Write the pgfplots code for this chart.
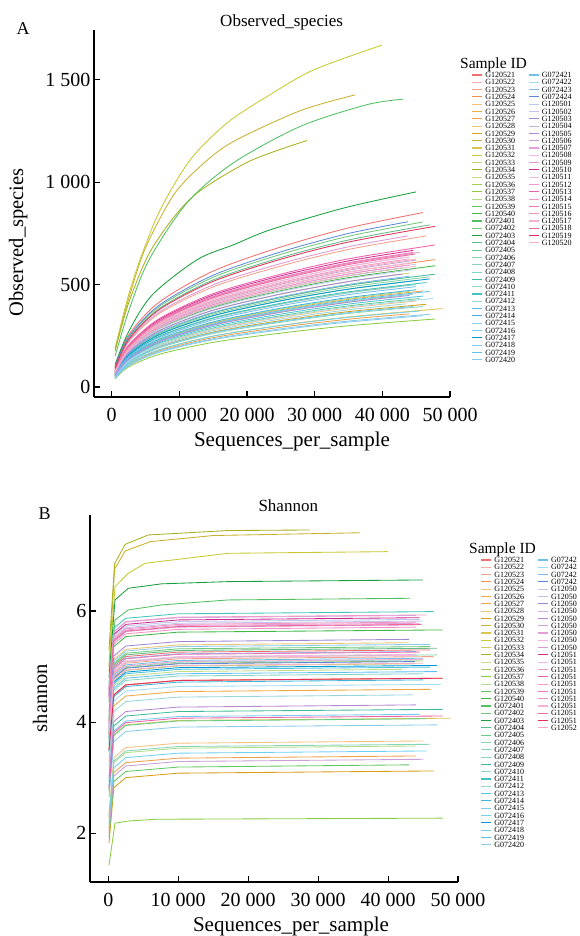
\documentclass[border=0pt]{standalone}
\usepackage{fontspec}
\setmainfont{Liberation Serif}
\usepackage{pgfplots}
\pgfplotsset{compat=1.18}

% one colour per sample, in legend order (hue runs red -> green -> blue -> pink)
\definecolor{s01}{HTML}{F07070}\definecolor{s02}{HTML}{F4AFA8}\definecolor{s03}{HTML}{F4A088}
\definecolor{s04}{HTML}{F39050}\definecolor{s05}{HTML}{F6C080}\definecolor{s06}{HTML}{F2AA40}
\definecolor{s07}{HTML}{F0A048}\definecolor{s08}{HTML}{EEC470}\definecolor{s09}{HTML}{D89E18}
\definecolor{s10}{HTML}{C8B030}\definecolor{s11}{HTML}{DCC450}\definecolor{s12}{HTML}{C8C830}
\definecolor{s13}{HTML}{CCCC70}\definecolor{s14}{HTML}{A8B020}\definecolor{s15}{HTML}{C4DC88}
\definecolor{s16}{HTML}{A8CC60}\definecolor{s17}{HTML}{8CCC44}\definecolor{s18}{HTML}{B0DC88}
\definecolor{s19}{HTML}{60C860}\definecolor{s20}{HTML}{40B848}\definecolor{s21}{HTML}{50C060}
\definecolor{s22}{HTML}{70C878}\definecolor{s23}{HTML}{18A040}\definecolor{s24}{HTML}{60BC88}
\definecolor{s25}{HTML}{68CC8C}\definecolor{s26}{HTML}{88D4A8}\definecolor{s27}{HTML}{88D4B8}
\definecolor{s28}{HTML}{88D4C4}\definecolor{s29}{HTML}{40BC9C}\definecolor{s30}{HTML}{88D4CC}
\definecolor{s31}{HTML}{40C4BC}\definecolor{s32}{HTML}{98D4DC}\definecolor{s33}{HTML}{50C4DC}
\definecolor{s34}{HTML}{40B4DC}\definecolor{s35}{HTML}{88CCEC}\definecolor{s36}{HTML}{70D0F4}
\definecolor{s37}{HTML}{0098DC}\definecolor{s38}{HTML}{78CCF4}\definecolor{s39}{HTML}{60C0F4}
\definecolor{s40}{HTML}{88CCEC}\definecolor{s41}{HTML}{70C0EC}\definecolor{s42}{HTML}{A0DCF4}
\definecolor{s43}{HTML}{84B8EC}\definecolor{s44}{HTML}{6088DC}\definecolor{s45}{HTML}{C0C8EC}
\definecolor{s46}{HTML}{C8C0EC}\definecolor{s47}{HTML}{A088D4}\definecolor{s48}{HTML}{CCB0DC}
\definecolor{s49}{HTML}{B888D4}\definecolor{s50}{HTML}{C8A0D4}\definecolor{s51}{HTML}{E4A0DC}
\definecolor{s52}{HTML}{F0B8E4}\definecolor{s53}{HTML}{DC98D4}\definecolor{s54}{HTML}{D02C90}
\definecolor{s55}{HTML}{F4B8DC}\definecolor{s56}{HTML}{EE98CC}\definecolor{s57}{HTML}{EE60A8}
\definecolor{s58}{HTML}{F498C4}\definecolor{s59}{HTML}{EE78B4}\definecolor{s60}{HTML}{F090C4}
\definecolor{s61}{HTML}{F4B0D0}\definecolor{s62}{HTML}{EE6898}\definecolor{s63}{HTML}{E43058}
\definecolor{s64}{HTML}{F4B0C0}

\newcommand{\cur}[2]{\addplot[#1,forget plot] coordinates {#2};}
\newcommand{\LE}[2]{\addlegendimage{#1}\addlegendentry{#2}}
\newcommand{\LX}{\addlegendimage{empty legend}\addlegendentry{}}

% left column (40 rows) is the same in both panels
\newcommand{\LeftRows}{%
\LE{s25}{G072405}\LX\LE{s26}{G072406}\LX\LE{s27}{G072407}\LX\LE{s28}{G072408}\LX
\LE{s29}{G072409}\LX\LE{s30}{G072410}\LX\LE{s31}{G072411}\LX\LE{s32}{G072412}\LX
\LE{s33}{G072413}\LX\LE{s34}{G072414}\LX\LE{s35}{G072415}\LX\LE{s36}{G072416}\LX
\LE{s37}{G072417}\LX\LE{s38}{G072418}\LX\LE{s39}{G072419}\LX\LE{s40}{G072420}\LX
}
% panel A legend, filled row by row
\newcommand{\SampleLegendA}{%
\LE{s01}{G120521}\LE{s41}{G072421}\LE{s02}{G120522}\LE{s42}{G072422}%
\LE{s03}{G120523}\LE{s43}{G072423}\LE{s04}{G120524}\LE{s44}{G072424}%
\LE{s05}{G120525}\LE{s45}{G120501}\LE{s06}{G120526}\LE{s46}{G120502}%
\LE{s07}{G120527}\LE{s47}{G120503}\LE{s08}{G120528}\LE{s48}{G120504}%
\LE{s09}{G120529}\LE{s49}{G120505}\LE{s10}{G120530}\LE{s50}{G120506}%
\LE{s11}{G120531}\LE{s51}{G120507}\LE{s12}{G120532}\LE{s52}{G120508}%
\LE{s13}{G120533}\LE{s53}{G120509}\LE{s14}{G120534}\LE{s54}{G120510}%
\LE{s15}{G120535}\LE{s55}{G120511}\LE{s16}{G120536}\LE{s56}{G120512}%
\LE{s17}{G120537}\LE{s57}{G120513}\LE{s18}{G120538}\LE{s58}{G120514}%
\LE{s19}{G120539}\LE{s59}{G120515}\LE{s20}{G120540}\LE{s60}{G120516}%
\LE{s21}{G072401}\LE{s61}{G120517}\LE{s22}{G072402}\LE{s62}{G120518}%
\LE{s23}{G072403}\LE{s63}{G120519}\LE{s24}{G072404}\LE{s64}{G120520}%
\LeftRows}
% panel B legend: right column names are shown cut short in the figure
\newcommand{\SampleLegendB}{%
\LE{s01}{G120521}\LE{s41}{G07242}\LE{s02}{G120522}\LE{s42}{G07242}%
\LE{s03}{G120523}\LE{s43}{G07242}\LE{s04}{G120524}\LE{s44}{G07242}%
\LE{s05}{G120525}\LE{s45}{G12050}\LE{s06}{G120526}\LE{s46}{G12050}%
\LE{s07}{G120527}\LE{s47}{G12050}\LE{s08}{G120528}\LE{s48}{G12050}%
\LE{s09}{G120529}\LE{s49}{G12050}\LE{s10}{G120530}\LE{s50}{G12050}%
\LE{s11}{G120531}\LE{s51}{G12050}\LE{s12}{G120532}\LE{s52}{G12050}%
\LE{s13}{G120533}\LE{s53}{G12050}\LE{s14}{G120534}\LE{s54}{G12051}%
\LE{s15}{G120535}\LE{s55}{G12051}\LE{s16}{G120536}\LE{s56}{G12051}%
\LE{s17}{G120537}\LE{s57}{G12051}\LE{s18}{G120538}\LE{s58}{G12051}%
\LE{s19}{G120539}\LE{s59}{G12051}\LE{s20}{G120540}\LE{s60}{G12051}%
\LE{s21}{G072401}\LE{s61}{G12051}\LE{s22}{G072402}\LE{s62}{G12051}%
\LE{s23}{G072403}\LE{s63}{G12051}\LE{s24}{G072404}\LE{s64}{G12052}%
\LeftRows}

\pgfplotsset{rare/.style={
  scale only axis, axis lines*=left,
  axis line style={line width=1.3pt,black},
  tick style={line width=1.1pt,black}, major tick length=6pt, tick align=inside,
  tick label style={font=\fontsize{20}{22}\selectfont},
  xticklabel style={yshift=-8pt},
  /pgf/number format/1000 sep={\ }, /pgf/number format/assume math mode=true,
  scaled ticks=false, no markers,
  every axis plot/.append style={line width=0.85pt},
  xmax=50000, xtick={0,10000,...,50000},
  legend columns=2, legend cell align=left,
  legend image code/.code={\draw[##1,line width=1.1pt] (0pt,0pt) -- (10pt,0pt);},
  legend style={draw=none,fill=none,inner sep=0pt,outer sep=0pt,row sep=0pt,
    font=\fontsize{8}{8}\selectfont,
    nodes={inner xsep=2.6pt,inner ysep=0pt,text height=6.3pt,text depth=1pt},
    anchor=north west},
}}

\begin{document}
\begin{tikzpicture}[x=1pt,y=1pt]
% ---------------- A: observed species ----------------
\begin{axis}[rare, at={(94pt,539pt)}, anchor=south west, width=356pt, height=367pt,
  xmin=-2616, ymin=-49, ymax=1744, ytick={0,500,1000,1500},
  legend style={at={(rel axis cs:1.061,0.8873)},
    /tikz/every even column/.append style={column sep=10.3pt}},
  every axis plot/.append style={smooth}]
\cur{s01}{(500,101)(2500,254)(7000,414)(15000,566)(25000,684)(35000,777)(46000,852)}
\cur{s02}{(500,60)(2500,150)(7000,245)(15000,335)(25000,405)(35000,460)(44000,497)}
\cur{s03}{(500,88)(2500,219)(7000,358)(15000,489)(25000,591)(35000,672)(46500,738)}
\cur{s04}{(500,73)(2500,183)(7000,299)(15000,409)(25000,494)(35000,561)(47800,622)}
\cur{s05}{(500,50)(2500,126)(7000,206)(15000,281)(25000,340)(35000,386)(45000,420)}
\cur{s06}{(500,56)(2500,140)(7000,228)(15000,312)(25000,377)(35000,428)(46000,469)}
\cur{s07}{(500,43)(2500,108)(7000,176)(15000,241)(25000,292)(35000,331)(44000,357)}
\cur{s08}{(500,65)(2500,162)(7000,265)(15000,362)(25000,437)(35000,497)(43000,532)}
\cur{s09}{(500,48)(2500,120)(7000,196)(15000,268)(25000,324)(35000,368)(46500,404)}
\cur{s10}{(500,185)(2500,430)(5000,680)(9190,940)(13500,1090)(18040,1200)(27880,1350)(35990,1427)}
\cur{s11}{(500,45)(2500,112)(7000,182)(15000,249)(25000,301)(35000,342)(48900,383)}
\cur{s12}{(500,190)(2500,450)(4500,650)(7230,869)(11650,1112)(17060,1290)(22960,1419)(29840,1549)(39930,1670)}
\cur{s13}{(500,67)(2500,168)(7000,274)(15000,375)(25000,454)(35000,515)(44000,556)}
\cur{s14}{(500,175)(2500,410)(5500,650)(9440,840)(13130,960)(20500,1105)(28860,1204)}
\cur{s15}{(500,54)(2500,135)(7000,221)(15000,302)(25000,365)(35000,414)(42000,440)}
\cur{s16}{(500,62)(2500,156)(7000,255)(15000,348)(25000,421)(35000,478)(45000,520)}
\cur{s17}{(500,39)(2500,98)(7000,159)(15000,218)(25000,263)(35000,299)(47800,332)}
\cur{s18}{(500,56)(2500,141)(7000,230)(15000,315)(25000,381)(35000,432)(44000,467)}
\cur{s19}{(500,71)(2500,177)(7000,289)(15000,395)(25000,478)(35000,543)(43000,581)}
\cur{s20}{(500,70)(2500,174)(7000,284)(15000,389)(25000,470)(35000,534)(47800,592)}
\cur{s21}{(500,150)(2500,370)(5500,620)(11170,901)(18040,1096)(27880,1273)(37710,1379)(43110,1406)}
\cur{s22}{(500,96)(2500,240)(7000,392)(15000,536)(25000,648)(35000,736)(46000,806)}
\cur{s23}{(500,110)(2500,270)(6000,450)(12640,622)(18040,695)(23450,768)(34270,874)(44990,953)}
\cur{s24}{(500,94)(2500,234)(7000,382)(15000,523)(25000,632)(35000,718)(47000,792)}
\cur{s25}{(500,52)(2500,129)(7000,211)(15000,288)(25000,348)(35000,396)(45500,432)}
\cur{s26}{(500,64)(2500,159)(7000,260)(15000,355)(25000,429)(35000,488)(47000,538)}
\cur{s27}{(500,47)(2500,117)(7000,191)(15000,261)(25000,316)(35000,359)(46000,393)}
\cur{s28}{(500,60)(2500,150)(7000,245)(15000,335)(25000,405)(35000,460)(45000,500)}
\cur{s29}{(500,65)(2500,162)(7000,265)(15000,362)(25000,437)(35000,497)(47800,551)}
\cur{s30}{(500,55)(2500,137)(7000,223)(15000,305)(25000,369)(35000,419)(44500,453)}
\cur{s31}{(500,61)(2500,152)(7000,247)(15000,338)(25000,409)(35000,465)(46500,510)}
\cur{s32}{(500,49)(2500,123)(7000,201)(15000,275)(25000,332)(35000,377)(43500,406)}
\cur{s33}{(500,53)(2500,132)(7000,216)(15000,295)(25000,356)(35000,405)(46000,444)}
\cur{s34}{(500,57)(2500,143)(7000,233)(15000,318)(25000,385)(35000,437)(45000,475)}
\cur{s35}{(500,42)(2500,105)(7000,172)(15000,235)(25000,284)(35000,322)(47000,355)}
\cur{s36}{(500,44)(2500,111)(7000,181)(15000,248)(25000,300)(35000,340)(45500,371)}
\cur{s37}{(500,62)(2500,156)(7000,255)(15000,348)(25000,421)(35000,478)(47000,528)}
\cur{s38}{(500,47)(2500,119)(7000,194)(15000,265)(25000,320)(35000,363)(44500,393)}
\cur{s39}{(500,55)(2500,138)(7000,225)(15000,308)(25000,373)(35000,423)(47000,467)}
\cur{s40}{(500,41)(2500,104)(7000,169)(15000,231)(25000,279)(35000,317)(46000,348)}
\cur{s41}{(500,59)(2500,147)(7000,240)(15000,328)(25000,397)(35000,451)(45000,490)}
\cur{s42}{(500,51)(2500,128)(7000,208)(15000,285)(25000,344)(35000,391)(47500,432)}
\cur{s43}{(500,65)(2500,164)(7000,267)(15000,365)(25000,441)(35000,501)(44000,541)}
\cur{s44}{(500,98)(2500,245)(7000,399)(15000,546)(25000,660)(35000,750)(43800,807)}
\cur{s45}{(500,69)(2500,173)(7000,282)(15000,385)(25000,466)(35000,529)(44500,573)}
\cur{s46}{(500,72)(2500,180)(7000,294)(15000,402)(25000,486)(35000,552)(45000,600)}
\cur{s47}{(500,67)(2500,168)(7000,274)(15000,375)(25000,454)(35000,515)(43000,552)}
\cur{s48}{(500,77)(2500,192)(7000,314)(15000,429)(25000,518)(35000,589)(44000,636)}
\cur{s49}{(500,54)(2500,135)(7000,221)(15000,302)(25000,365)(35000,414)(44000,447)}
\cur{s50}{(500,74)(2500,186)(7000,304)(15000,415)(25000,502)(35000,570)(45000,620)}
\cur{s51}{(500,79)(2500,197)(7000,321)(15000,439)(25000,531)(35000,603)(44500,652)}
\cur{s52}{(500,73)(2500,183)(7000,299)(15000,409)(25000,494)(35000,561)(44000,606)}
\cur{s53}{(500,89)(2500,224)(7000,365)(15000,499)(25000,603)(35000,685)(43800,738)}
\cur{s54}{(500,80)(2500,201)(7000,328)(15000,449)(25000,543)(35000,616)(44500,667)}
\cur{s55}{(500,77)(2500,192)(7000,314)(15000,429)(25000,518)(35000,589)(43500,634)}
\cur{s56}{(500,79)(2500,197)(7000,321)(15000,439)(25000,531)(35000,603)(45500,658)}
\cur{s57}{(500,82)(2500,204)(7000,333)(15000,456)(25000,551)(35000,626)(47800,694)}
\cur{s58}{(500,76)(2500,189)(7000,309)(15000,422)(25000,510)(35000,580)(44000,626)}
\cur{s59}{(500,79)(2500,198)(7000,323)(15000,442)(25000,535)(35000,607)(44500,657)}
\cur{s60}{(500,72)(2500,180)(7000,294)(15000,402)(25000,486)(35000,552)(44000,596)}
\cur{s61}{(500,71)(2500,177)(7000,289)(15000,395)(25000,478)(35000,543)(45000,590)}
\cur{s62}{(500,78)(2500,195)(7000,319)(15000,436)(25000,527)(35000,598)(44800,649)}
\cur{s63}{(500,92)(2500,231)(7000,377)(15000,516)(25000,624)(35000,708)(47800,785)}
\cur{s64}{(500,75)(2500,188)(7000,306)(15000,419)(25000,506)(35000,575)(45000,625)}
\SampleLegendA
\end{axis}

% ---------------- B: shannon ----------------
\begin{axis}[rare, at={(90pt,54pt)}, anchor=south west, width=368pt, height=367pt,
  xmin=-2614, ymin=1.12, ymax=7.73, ytick={2,4,6},
  legend style={at={(rel axis cs:1.0617,0.8873)},
    /tikz/every even column/.append style={column sep=10.6pt}}]
\cur{s01}{(100,4.00)(800,5.00)(2500,5.18)(10000,5.26)(46000,5.30)}
\cur{s02}{(100,3.49)(800,4.49)(2500,4.67)(10000,4.75)(44000,4.79)}
\cur{s03}{(100,3.88)(800,4.88)(2500,5.06)(10000,5.14)(46500,5.18)}
\cur{s04}{(100,3.49)(800,4.49)(2500,4.67)(10000,4.75)(47800,4.79)}
\cur{s05}{(100,2.36)(800,3.36)(2500,3.54)(10000,3.62)(45000,3.66)}
\cur{s06}{(100,3.29)(800,4.29)(2500,4.47)(10000,4.55)(46000,4.59)}
\cur{s07}{(100,2.09)(800,3.09)(2500,3.27)(10000,3.35)(44000,3.39)}
\cur{s08}{(100,4.13)(800,5.13)(2500,5.31)(10000,5.39)(43000,5.43)}
\cur{s09}{(100,1.82)(800,2.82)(2500,3.00)(10000,3.08)(46500,3.12)}
\cur{s10}{(100,5.0)(900,6.75)(2400,7.08)(6000,7.25)(15000,7.36)(35990,7.41)}
\cur{s11}{(100,2.77)(800,3.77)(2500,3.95)(10000,4.03)(48900,4.07)}
\cur{s12}{(100,4.9)(960,6.44)(2860,6.68)(5240,6.86)(17140,7.04)(39930,7.07)}
\cur{s13}{(100,3.75)(800,4.75)(2500,4.93)(10000,5.01)(44000,5.05)}
\cur{s14}{(100,5.3)(900,6.85)(2400,7.2)(5700,7.37)(17100,7.45)(28860,7.46)}
\cur{s15}{(100,3.65)(800,4.65)(2500,4.83)(10000,4.91)(42000,4.95)}
\cur{s16}{(100,3.80)(800,4.80)(2500,4.98)(10000,5.06)(45000,5.10)}
\cur{s17}{(100,1.42)(960,2.18)(3000,2.22)(6900,2.25)(47800,2.27)}
\cur{s18}{(100,2.27)(800,3.27)(2500,3.45)(10000,3.53)(44000,3.57)}
\cur{s19}{(100,1.93)(800,2.93)(2500,3.11)(10000,3.19)(43000,3.23)}
\cur{s20}{(100,4.36)(800,5.36)(2500,5.54)(10000,5.62)(47800,5.66)}
\cur{s21}{(100,4.5)(960,5.84)(2860,6.02)(7630,6.11)(17140,6.20)(43110,6.23)}
\cur{s22}{(100,4.06)(800,5.06)(2500,5.24)(10000,5.32)(46000,5.36)}
\cur{s23}{(100,4.8)(960,6.20)(2860,6.41)(7630,6.49)(17140,6.53)(44990,6.56)}
\cur{s24}{(100,4.03)(800,5.03)(2500,5.21)(10000,5.29)(47000,5.33)}
\cur{s25}{(100,2.76)(800,3.76)(2500,3.94)(10000,4.02)(45500,4.06)}
\cur{s26}{(100,3.91)(800,4.91)(2500,5.09)(10000,5.17)(47000,5.21)}
\cur{s27}{(100,2.30)(800,3.30)(2500,3.48)(10000,3.56)(46000,3.60)}
\cur{s28}{(100,3.57)(800,4.57)(2500,4.75)(10000,4.83)(45000,4.87)}
\cur{s29}{(100,2.93)(800,3.93)(2500,4.11)(10000,4.19)(47800,4.23)}
\cur{s30}{(100,3.82)(800,4.82)(2500,5.00)(10000,5.08)(44500,5.12)}
\cur{s31}{(100,4.69)(800,5.69)(2500,5.87)(10000,5.95)(46500,5.99)}
\cur{s32}{(100,3.19)(800,4.19)(2500,4.37)(10000,4.45)(43500,4.49)}
\cur{s33}{(100,3.69)(800,4.69)(2500,4.87)(10000,4.95)(46000,4.99)}
\cur{s34}{(100,3.46)(800,4.46)(2500,4.64)(10000,4.72)(45000,4.76)}
\cur{s35}{(100,2.65)(800,3.65)(2500,3.83)(10000,3.91)(47000,3.95)}
\cur{s36}{(100,2.18)(800,3.18)(2500,3.36)(10000,3.44)(45500,3.48)}
\cur{s37}{(100,3.72)(800,4.72)(2500,4.90)(10000,4.98)(47000,5.02)}
\cur{s38}{(100,2.84)(800,3.84)(2500,4.02)(10000,4.10)(44500,4.14)}
\cur{s39}{(100,3.61)(800,4.61)(2500,4.79)(10000,4.87)(47000,4.91)}
\cur{s40}{(100,4.10)(800,5.10)(2500,5.28)(10000,5.36)(46000,5.40)}
\cur{s41}{(100,3.85)(800,4.85)(2500,5.03)(10000,5.11)(45000,5.15)}
\cur{s42}{(100,3.38)(800,4.38)(2500,4.56)(10000,4.64)(47500,4.68)}
\cur{s43}{(100,3.97)(800,4.97)(2500,5.15)(10000,5.23)(44000,5.27)}
\cur{s44}{(100,3.79)(800,4.79)(2500,4.97)(10000,5.05)(43800,5.09)}
\cur{s45}{(100,4.55)(800,5.55)(2500,5.73)(10000,5.81)(44500,5.85)}
\cur{s46}{(100,4.52)(800,5.52)(2500,5.70)(10000,5.78)(45000,5.82)}
\cur{s47}{(100,4.19)(800,5.19)(2500,5.37)(10000,5.45)(43000,5.49)}
\cur{s48}{(100,4.62)(800,5.62)(2500,5.80)(10000,5.88)(44000,5.92)}
\cur{s49}{(100,3.01)(800,4.01)(2500,4.19)(10000,4.27)(44000,4.31)}
\cur{s50}{(100,2.03)(800,3.03)(2500,3.21)(10000,3.29)(45000,3.33)}
\cur{s51}{(100,4.48)(800,5.48)(2500,5.66)(10000,5.74)(44500,5.78)}
\cur{s52}{(100,3.92)(800,4.92)(2500,5.10)(10000,5.18)(44000,5.22)}
\cur{s53}{(100,4.45)(800,5.45)(2500,5.63)(10000,5.71)(43800,5.75)}
\cur{s54}{(100,4.58)(800,5.58)(2500,5.76)(10000,5.84)(44500,5.88)}
\cur{s55}{(100,3.90)(800,4.90)(2500,5.08)(10000,5.16)(43500,5.20)}
\cur{s56}{(100,4.63)(800,5.63)(2500,5.81)(10000,5.89)(45500,5.93)}
\cur{s57}{(100,2.81)(800,3.81)(2500,3.99)(10000,4.07)(47800,4.11)}
\cur{s58}{(100,4.50)(800,5.50)(2500,5.68)(10000,5.76)(44000,5.80)}
\cur{s59}{(100,3.96)(800,4.96)(2500,5.14)(10000,5.22)(44500,5.26)}
\cur{s60}{(100,4.41)(800,5.41)(2500,5.59)(10000,5.67)(44000,5.71)}
\cur{s61}{(100,3.83)(800,4.83)(2500,5.01)(10000,5.09)(45000,5.13)}
\cur{s62}{(100,4.46)(800,5.46)(2500,5.64)(10000,5.72)(44800,5.76)}
\cur{s63}{(100,3.49)(800,4.49)(2500,4.67)(10000,4.75)(47800,4.79)}
\cur{s64}{(100,3.76)(800,4.76)(2500,4.94)(10000,5.02)(45000,5.06)}
\SampleLegendB
\end{axis}

% panel letters, titles, axis labels, legend titles
\node[anchor=base west,font=\fontsize{18}{18}\selectfont] at (13pt,901pt) {A};
\node[anchor=base west,font=\fontsize{18}{18}\selectfont] at (35pt,416pt) {B};
\node[anchor=base west,font=\fontsize{17}{17}\selectfont] at (216.7pt,909.3pt) {Observed\_species};
\node[anchor=base west,font=\fontsize{17}{17}\selectfont] at (255pt,424.3pt) {Shannon};
\node[anchor=base,rotate=90,font=\fontsize{20.5}{20.5}\selectfont] at (23pt,693.5pt) {Observed\_species};
\node[anchor=base,rotate=90,font=\fontsize{20.5}{20.5}\selectfont] at (47pt,238pt) {shannon};
\node[anchor=base,font=\fontsize{21}{21}\selectfont] at (292pt,489.3pt) {Sequences\_per\_sample};
\node[anchor=base,font=\fontsize{21}{21}\selectfont] at (291pt,4.3pt) {Sequences\_per\_sample};
\node[anchor=base,font=\fontsize{15.5}{15.5}\selectfont] at (493.5pt,867.7pt) {Sample ID};
\node[anchor=base,font=\fontsize{15.5}{15.5}\selectfont] at (502.5pt,382.7pt) {Sample ID};

\pgfresetboundingbox
\path[use as bounding box] (0pt,0pt) rectangle (579pt,936pt);
\end{tikzpicture}
\end{document}
